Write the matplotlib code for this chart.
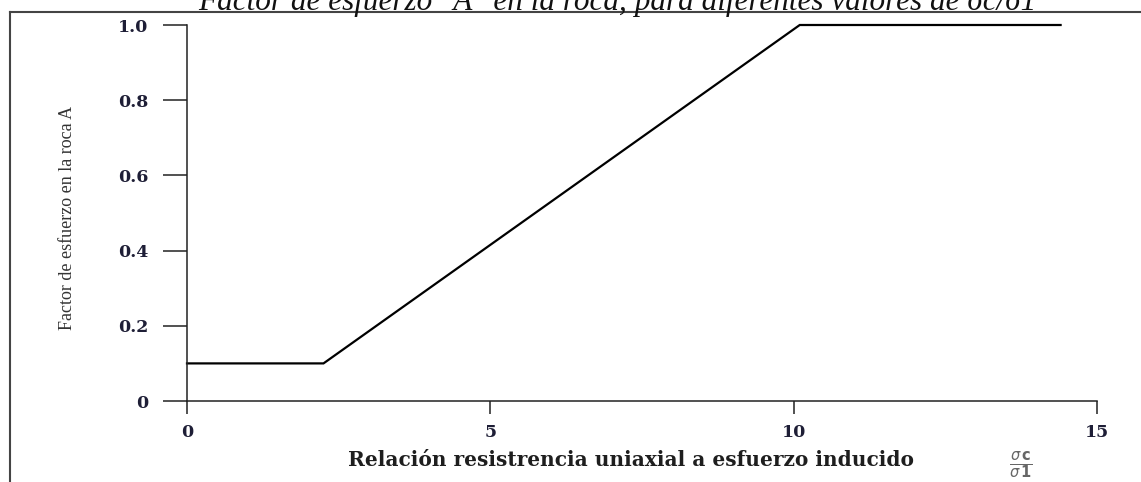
# -*- coding: utf-8 -*-
# Factor de esfuerzo A en la roca vs relacion sigma_c / sigma_1

import numpy as np
import matplotlib
matplotlib.use('Agg')
import matplotlib.pyplot as plt
from matplotlib.lines import Line2D

# ------------------------------------------------------
# datos
x_rel = [0.0, 2.25, 10.1, 14.4]      # sigma_c / sigma_1
factor_A = [0.1, 0.1, 1.0, 1.0]      # factor de esfuerzo A

x_ticks = [0, 5, 10, 15]
x_tick_labels = ['0', '5', '10', '15']
y_ticks = [0, 0.2, 0.4, 0.6, 0.8, 1.0]
y_tick_labels = ['0', '0.2', '0.4', '0.6', '0.8', '1.0']

titulo = 'Factor de esfuerzo "A" en la roca, para diferentes valores de σc/σ1'
etiqueta_x = 'Relación resistrencia uniaxial a esfuerzo inducido'
etiqueta_y = 'Factor de esfuerzo en la roca A'

# ------------------------------------------------------
W, H = 1141, 482
fig = plt.figure(figsize=(W / 100, H / 100), dpi=100)

# ejes en pixeles: x 187 -> 1097, y 401 (0) -> 25 (1.0)
ax = fig.add_axes([187 / W, (H - 401) / H, (1097 - 187) / W, (401 - 25) / H])

ax.plot(x_rel, factor_A, color='black', lw=1.6, clip_on=False,
        solid_joinstyle='miter')

ax.set_xlim(0, 15)
ax.set_ylim(0, 1)
for s in ['top', 'right']:
    ax.spines[s].set_visible(False)
for s in ['left', 'bottom']:
    ax.spines[s].set_linewidth(1.1)
    ax.spines[s].set_color('#222222')

ax.set_xticks(x_ticks)
ax.set_xticklabels(x_tick_labels)
ax.set_yticks(y_ticks)
ax.set_yticklabels(y_tick_labels)

for lab in ax.get_xticklabels() + ax.get_yticklabels():
    lab.set_fontfamily('DejaVu Serif')
    lab.set_fontweight('bold')
    lab.set_fontsize(12.5)
    lab.set_color('#1e1e36')

ax.tick_params(axis='y', direction='out', length=17, width=1.1,
               pad=11, color='#222222')
ax.tick_params(axis='x', direction='out', length=9.5, width=1.1,
               pad=7, color='#222222')

# etiqueta eje y
fig.text(68 / W, 1 - 218 / H, etiqueta_y, rotation=90, ha='center',
         va='center', family='Liberation Serif', fontsize=13,
         color='#333333')

# etiqueta eje x
fig.text(631 / W, 1 - 466 / H, etiqueta_x, ha='center', va='baseline',
         family='DejaVu Serif', weight='bold', fontsize=14.5,
         color='#1e1e1e')

# fraccion sigma_c / sigma_1
fig.text(1021 / W, 1 - 465 / H, r'$\frac{\sigma\,\mathbf{c}}{\sigma\,\mathbf{1}}$',
         ha='center', va='center', fontsize=15, color='#666666')

# titulo (cortado arriba, como en el original)
fig.text(617 / W, 1 - 10 / H, titulo, ha='center', va='baseline',
         family='Liberation Serif', style='italic', fontsize=22.5,
         color='#111111')

# marco del recuadro
fig.add_artist(Line2D([10 / W, 1.0], [1 - 12 / H, 1 - 12 / H],
                      transform=fig.transFigure, color='#444444', lw=1.5))
fig.add_artist(Line2D([10 / W, 10 / W], [0.0, 1 - 12 / H],
                      transform=fig.transFigure, color='#444444', lw=1.5))

fig.savefig('out.png', dpi=100)
